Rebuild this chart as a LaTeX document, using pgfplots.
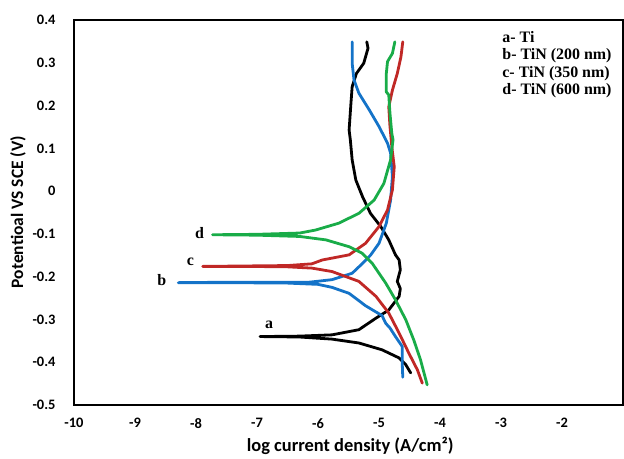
\documentclass[border=0pt]{standalone}
\usepackage{fontspec}
\setmainfont{Carlito}
\newfontfamily\tnr{Liberation Serif}
\usepackage{pgfplots}
\pgfplotsset{compat=1.18}

\definecolor{cblue}{RGB}{20,115,200}
\definecolor{cred}{RGB}{192,40,38}
\definecolor{cgreen}{RGB}{25,172,72}

\begin{document}
\begin{tikzpicture}
\useasboundingbox (-74bp,-54bp) rectangle (550bp,405bp);
\begin{axis}[
    scale only axis,
    width=549bp, height=385bp,
    xmin=-10, xmax=-1,
    ymin=-0.5, ymax=0.4,
    xtick={-10,-9,-8,-7,-6,-5,-4,-3,-2},
    ytick={-0.5,-0.4,-0.3,-0.2,-0.1,0,0.1,0.2,0.3,0.4},
    yticklabel style={/pgf/number format/fixed, /pgf/number format/precision=1, xshift=-15bp},
    xticklabel style={yshift=-10bp},
    /pgf/number format/assume math mode=true,
    ticklabel style={font=\bfseries\fontsize{14.5}{17}\selectfont},
    major tick length=0pt,
    axis line style={line width=2.2bp},
    xlabel={log current density (A/cm²)},
    ylabel={Potentioal VS SCE (V)},
    xlabel style={font=\bfseries\fontsize{18.5}{22}\selectfont,
        at={(axis description cs:0.503,-0.1065)}, anchor=center},
    ylabel style={font=\bfseries\fontsize{17.5}{21}\selectfont,
        at={(axis description cs:-0.102,0.501)}, anchor=center},
    every axis plot/.append style={line width=2.8bp, line join=round, line cap=round},
]
% a - Ti
\addplot[black] coordinates {
(-4.48,-0.425) (-4.56,-0.406) (-4.67,-0.390) (-4.95,-0.371) (-5.33,-0.355)
(-5.77,-0.346) (-6.31,-0.341) (-6.95,-0.340) (-6.31,-0.339) (-5.77,-0.336)
(-5.33,-0.324) (-5.05,-0.297) (-4.84,-0.278) (-4.67,-0.246) (-4.65,-0.228)
(-4.70,-0.211) (-4.65,-0.184) (-4.67,-0.161) (-4.73,-0.149) (-4.84,-0.114)
(-4.97,-0.083) (-5.14,-0.052) (-5.27,-0.013) (-5.38,0.026) (-5.44,0.073)
(-5.47,0.120) (-5.49,0.143) (-5.46,0.205) (-5.44,0.244) (-5.37,0.275)
(-5.25,0.299) (-5.18,0.334) (-5.20,0.349)
};
% b - TiN 200 nm
\addplot[cblue] coordinates {
(-4.61,-0.435) (-4.62,-0.400) (-4.62,-0.363) (-4.73,-0.340) (-4.82,-0.320)
(-4.89,-0.309) (-4.95,-0.291) (-5.22,-0.268) (-5.49,-0.239) (-5.77,-0.225)
(-6.00,-0.218) (-6.50,-0.215) (-7.50,-0.214) (-8.29,-0.214) (-7.50,-0.213)
(-6.50,-0.213) (-6.15,-0.213) (-5.77,-0.207) (-5.44,-0.192) (-5.27,-0.169)
(-5.14,-0.150) (-5.00,-0.122) (-4.88,-0.075) (-4.81,-0.021) (-4.78,0.034)
(-4.81,0.089) (-4.86,0.112) (-5.00,0.151) (-5.16,0.190) (-5.33,0.229)
(-5.41,0.260) (-5.44,0.299) (-5.44,0.349)
};
% c - TiN 350 nm
\addplot[cred] coordinates {
(-4.29,-0.449) (-4.37,-0.418) (-4.51,-0.379) (-4.67,-0.332) (-4.84,-0.285)
(-5.05,-0.246) (-5.33,-0.211) (-5.77,-0.188) (-6.10,-0.180) (-6.50,-0.177)
(-7.20,-0.176) (-7.89,-0.176) (-7.20,-0.175) (-6.50,-0.174) (-6.10,-0.170)
(-5.93,-0.161) (-5.49,-0.149) (-5.22,-0.122) (-5.00,-0.083) (-4.86,-0.044)
(-4.78,0.003) (-4.75,0.057) (-4.79,0.104) (-4.82,0.151) (-4.84,0.197)
(-4.78,0.236) (-4.70,0.275) (-4.64,0.314) (-4.61,0.349)
};
% d - TiN 600 nm
\addplot[cgreen] coordinates {
(-4.21,-0.453) (-4.32,-0.394) (-4.43,-0.348) (-4.56,-0.301) (-4.73,-0.254)
(-4.89,-0.215) (-5.11,-0.169) (-5.28,-0.145) (-5.49,-0.130) (-5.87,-0.114)
(-6.30,-0.106) (-7.00,-0.103) (-7.73,-0.102) (-7.00,-0.101) (-6.30,-0.098)
(-6.04,-0.091) (-5.66,-0.075) (-5.33,-0.052) (-5.08,-0.021) (-4.92,0.018)
(-4.81,0.073) (-4.77,0.120) (-4.79,0.135) (-4.82,0.182) (-4.84,0.225)
(-4.88,0.232) (-4.88,0.275) (-4.86,0.303) (-4.78,0.322) (-4.74,0.349)
};
\node[font=\tnr\bfseries\fontsize{16}{19}\selectfont] at (axis cs:-6.80,-0.313) {a};
\node[font=\tnr\bfseries\fontsize{16}{19}\selectfont] at (axis cs:-8.56,-0.207) {b};
\node[font=\tnr\bfseries\fontsize{16}{19}\selectfont] at (axis cs:-8.09,-0.165) {c};
\node[font=\tnr\bfseries\fontsize{16}{19}\selectfont] at (axis cs:-7.94,-0.098) {d};
\node[anchor=north west, align=left, inner sep=0pt,
      font=\tnr\bfseries\fontsize{16}{17.7}\selectfont]
    at (rel axis cs:0.78,0.972) {a- Ti\\b- TiN (200 nm)\\c- TiN (350 nm)\\d- TiN (600 nm)};
\end{axis}
\end{tikzpicture}
\end{document}
